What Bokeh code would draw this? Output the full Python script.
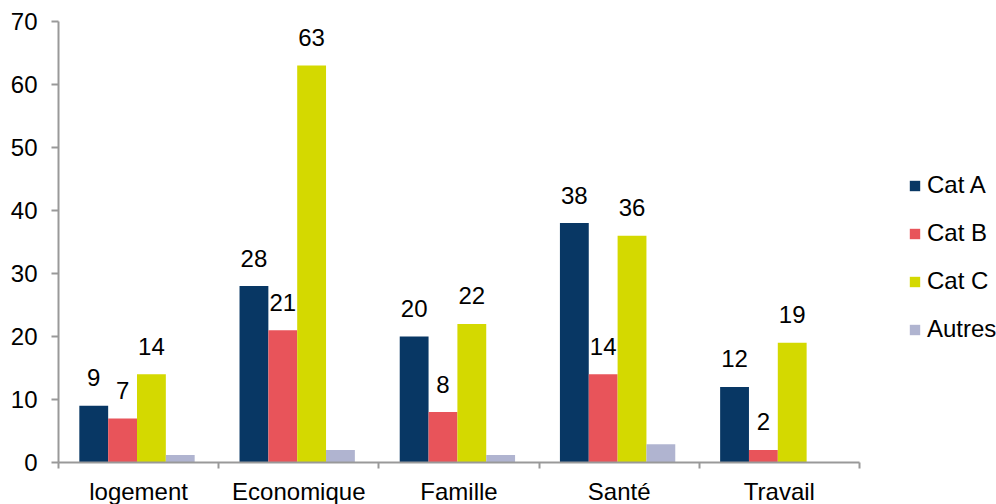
from bokeh.plotting import figure
from bokeh.models import ColumnDataSource, FixedTicker, Legend, LegendItem, Range1d
from bokeh.core.properties import value
from bokeh.embed import file_html
from bokeh.resources import INLINE

categories = ["logement", "Economique", "Famille", "Santé", "Travail"]
series_names = ["Cat A", "Cat B", "Cat C", "Autres"]
cat_a = [9, 28, 20, 38, 12]
cat_b = [7, 21, 8, 14, 2]
cat_c = [14, 63, 22, 36, 19]
autres = [1.2, 2, 1.2, 2.9, 0]
y_ticks = [0, 10, 20, 30, 40, 50, 60, 70]

colors = ["#083764", "#e8545a", "#d4d900", "#b0b4d0"]
series = [cat_a, cat_b, cat_c, autres]
show_labels = [True, True, True, False]

FONT = "Liberation Sans"

p = figure(frame_width=801, frame_height=441, output_backend="svg", toolbar_location=None,
           x_range=Range1d(0, len(categories)), y_range=Range1d(0, 70),
           min_border_left=58, min_border_top=21, min_border_bottom=41, min_border_right=10)
p.outline_line_color = None
p.xgrid.visible = False
p.ygrid.visible = False
p.background_fill_color = "white"
p.border_fill_color = "white"

bar_w = 0.18
offsets = [0.22, 0.40, 0.58, 0.76]
items = []
for name, vals, col, off, lab in zip(series_names, series, colors, offsets, show_labels):
    xs = [i + off for i in range(len(categories))]
    src = ColumnDataSource(dict(x=xs, top=vals, txt=[str(v) for v in vals]))
    r = p.vbar(x="x", top="top", width=bar_w, bottom=0, source=src, fill_color=col, line_color=None)
    items.append(LegendItem(label=name, renderers=[r]))
    if lab:
        p.text(x="x", y="top", text="txt", source=src, text_align="center", text_baseline="alphabetic",
               y_offset=-28, text_font=value(FONT), text_font_size="24px", text_color="#000000")

# y axis
ya = p.yaxis[0]
ya.ticker = FixedTicker(ticks=y_ticks)
ya.axis_line_color = "#999999"
ya.axis_line_width = 2
ya.major_tick_line_color = "#999999"
ya.major_tick_line_width = 2
ya.major_tick_in = 0
ya.major_tick_out = 7
ya.minor_tick_line_color = None
ya.major_label_text_font = FONT
ya.major_label_text_font_size = "24px"
ya.major_label_text_color = "#000000"
ya.major_label_standoff = 14

# x axis
xa = p.xaxis[0]
centers = [i + 0.5 for i in range(len(categories))]
xa.ticker = FixedTicker(ticks=centers, minor_ticks=list(range(len(categories) + 1)))
xa.major_label_overrides = {c: n for c, n in zip(centers, categories)}
xa.axis_line_color = "#999999"
xa.axis_line_width = 2
xa.major_tick_line_color = None
xa.major_tick_in = 0
xa.major_tick_out = 0
xa.minor_tick_line_color = "#999999"
xa.minor_tick_line_width = 2
xa.minor_tick_in = 0
xa.minor_tick_out = 6
xa.major_label_text_font = FONT
xa.major_label_text_font_size = "24px"
xa.major_label_text_color = "#000000"
xa.major_label_standoff = 9

legend = Legend(items=items, location=(49, 119), border_line_color=None,
                background_fill_alpha=0, label_text_font=FONT, label_text_font_size="24px",
                label_text_color="#000000", glyph_width=13, glyph_height=13, label_height=20,
                spacing=20, label_standoff=6, padding=0, margin=0)
p.add_layout(legend, "right")

open("out.html", "w").write(file_html(p, INLINE))
